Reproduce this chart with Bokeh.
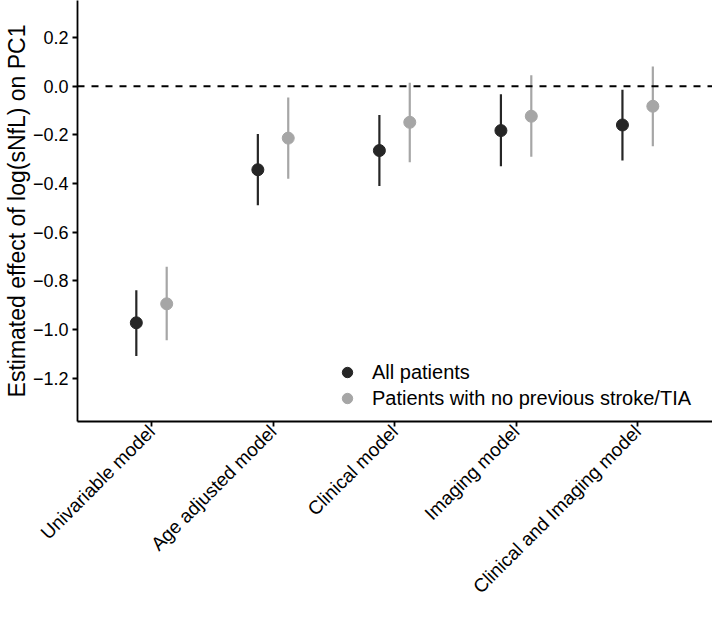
import math
from bokeh.plotting import figure
from bokeh.models import (Range1d, FixedTicker, CustomJSTickFormatter, Span,
                          Legend, LegendItem, ColumnDataSource)
from bokeh.embed import file_html
from bokeh.resources import INLINE

# ---- data ----
models = ["Univariable model", "Age adjusted model", "Clinical model",
          "Imaging model", "Clinical and Imaging model"]
all_est = [-0.972, -0.343, -0.264, -0.182, -0.159]
all_lo = [-1.108, -0.489, -0.410, -0.329, -0.305]
all_hi = [-0.838, -0.196, -0.118, -0.033, -0.014]
nost_est = [-0.894, -0.213, -0.148, -0.123, -0.082]
nost_lo = [-1.044, -0.380, -0.312, -0.290, -0.246]
nost_hi = [-0.742, -0.046, 0.015, 0.045, 0.081]
series_labels = ["All patients", "Patients with no previous stroke/TIA"]
y_ticks = [-1.2, -1.0, -0.8, -0.6, -0.4, -0.2, 0.0, 0.2]

DARK = "#262626"
GREY = "#a6a6a6"
FONT = "Liberation Sans"
dodge = 0.125
Y_MIN, Y_MAX = -1.3776, 0.3526

idx = list(range(len(models)))
src_all = ColumnDataSource(dict(x=[i - dodge for i in idx], y=all_est, lo=all_lo, hi=all_hi))
src_nost = ColumnDataSource(dict(x=[i + dodge for i in idx], y=nost_est, lo=nost_lo, hi=nost_hi))

p = figure(width=712, height=607, output_backend="svg", toolbar_location=None,
           x_range=Range1d(-0.609, 4.616), y_range=Range1d(Y_MIN, Y_MAX),
           min_border_left=72, min_border_right=0, min_border_top=0,
           min_border_bottom=185)
p.outline_line_color = None
p.xgrid.visible = False
p.ygrid.visible = False
p.background_fill_color = "white"

# zero reference line
p.add_layout(Span(location=0, dimension="width", line_color="black",
                  line_width=2, line_dash="7 7"))

seg_a = p.segment(x0="x", y0="lo", x1="x", y1="hi", source=src_all,
                  line_color=DARK, line_width=2.2)
pt_a = p.scatter(x="x", y="y", source=src_all, size=12, marker="circle",
                 fill_color=DARK, line_color=DARK)
seg_b = p.segment(x0="x", y0="lo", x1="x", y1="hi", source=src_nost,
                  line_color=GREY, line_width=2.2)
pt_b = p.scatter(x="x", y="y", source=src_nost, size=12, marker="circle",
                 fill_color=GREY, line_color=GREY)

# axes
for ax in (p.xaxis[0], p.yaxis[0]):
    ax.axis_line_color = "black"
    ax.axis_line_width = 1.8
    ax.major_tick_line_color = "black"
    ax.major_tick_line_width = 1.8
    ax.major_tick_in = 0
    ax.major_tick_out = 5
    ax.minor_tick_line_color = None
    ax.major_label_text_font = FONT
    ax.major_label_text_color = "black"

p.yaxis.ticker = FixedTicker(ticks=y_ticks)
p.yaxis.formatter = CustomJSTickFormatter(
    code="return tick.toFixed(1).replace('-', '\u2212');")
p.yaxis.major_label_text_font_size = "18px"
p.yaxis.major_label_standoff = 4
p.yaxis.axis_label = "Estimated effect of log(sNfL) on PC1"
p.yaxis.axis_label_text_font = FONT
p.yaxis.axis_label_text_font_size = "23px"
p.yaxis.axis_label_text_font_style = "normal"
p.yaxis.axis_label_text_color = "black"
p.yaxis.axis_label_standoff = 0

p.xaxis.ticker = FixedTicker(ticks=idx)
p.xaxis.formatter = CustomJSTickFormatter(args=dict(labels=models),
                                          code="return labels[Math.round(tick)];")
p.xaxis.major_label_orientation = math.pi / 4
p.xaxis.major_label_text_font_size = "19px"
p.xaxis.major_label_standoff = 2

legend = Legend(items=[LegendItem(label=series_labels[0], renderers=[pt_a]),
                       LegendItem(label=series_labels[1], renderers=[pt_b])],
                location=(255, 10), border_line_color=None,
                background_fill_alpha=0, padding=0, margin=0, spacing=0,
                glyph_width=30, glyph_height=26, label_height=26,
                label_standoff=10, label_text_font=FONT,
                label_text_font_size="20px", label_text_color="black")
p.add_layout(legend)

open("out.html", "w").write(file_html(p, INLINE))
